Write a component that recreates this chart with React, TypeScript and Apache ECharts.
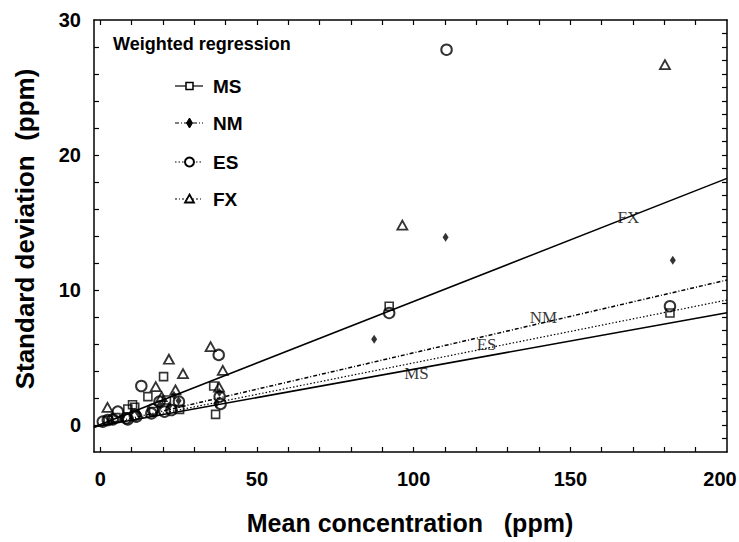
import React, { useEffect, useRef } from "react";
import * as echarts from "echarts";

// ---- data ----
const xTickValues = [0, 10, 20, 30, 40, 50, 60, 70, 80, 90, 100, 110, 120, 130, 140, 150, 160, 170, 180, 190];
const xLabelValues = [0, 50, 100, 150, 200];
const yLeftTickValues = [0, 2, 4, 6, 8, 10, 12, 14, 16, 18, 20, 22, 24, 26, 28];
const yRightTickValues = [-1, 0, 1, 2, 3, 4, 5, 6, 7, 8, 9, 10, 11, 12, 13, 14, 15, 16, 17, 18, 19, 20, 21, 22, 23, 24, 25, 26, 27, 28, 29];
const yLabelValues = [0, 10, 20, 30];

const msPoints = [
  [2.5, 0.35], [5, 0.55], [8.8, 1.19], [10.3, 1.5], [11.0, 1.31], [15.2, 2.1], [17, 1.0],
  [20.2, 3.58], [21.1, 1.85], [25.3, 1.16], [36.2, 2.89], [36.8, 0.79], [92.2, 8.8], [181.8, 8.3],
];
const nmPoints = [
  [3, 0.3], [7, 0.6], [12, 0.9], [19, 1.5], [22, 1.4], [23.5, 2.2], [25, 1.8], [37, 1.6],
  [38, 2.4], [87.4, 6.35], [110.2, 13.9], [182.7, 12.2],
];
const esPoints = [
  [0.8, 0.25], [2.4, 0.37], [4.0, 0.42], [5.6, 0.99], [8.3, 0.5], [8.8, 0.42], [11.0, 0.74],
  [11.5, 0.62], [13.1, 2.89], [16.3, 0.86], [16.8, 1.16], [18.9, 1.73], [20.5, 0.99], [22.7, 1.11],
  [25.1, 1.73], [37.8, 5.19], [38.1, 2.1], [38.4, 1.56], [92.2, 8.3], [110.5, 27.8], [181.8, 8.8],
];
const fxPoints = [
  [2.3, 1.3], [17.7, 2.84], [19.6, 2.1], [21.9, 4.87], [24, 2.6], [26.4, 3.8], [35.2, 5.8],
  [37.9, 2.81], [39.1, 4.05], [96.4, 14.8], [180.2, 26.7],
];

// regression lines: [start, end]
const msLine = [[-2, -0.15], [200, 8.32]];
const nmLine = [[-2, -0.15], [200, 10.74]];
const esLine = [[-2, -0.15], [200, 9.26]];
const fxLine = [[-2, -0.15], [200, 18.27]];

const lineLabels = [
  { name: "FX", value: [168.5, 15.4] },
  { name: "NM", value: [141.4, 7.98] },
  { name: "ES", value: [123.3, 5.93] },
  { name: "MS", value: [100.9, 3.78] },
];

const legendNames = ["MS", "NM", "ES", "FX"];

const SANS = "Liberation Sans, Arial, sans-serif";
const SERIF = "Liberation Serif, Times New Roman, serif";

function frameAxis(extra: any) {
  return {
    type: "value",
    min: extra.min,
    max: extra.max,
    position: extra.position,
    axisLine: { show: true, onZero: false, lineStyle: { color: "#000", width: 1.5 } },
    axisTick: {
      show: true,
      inside: true,
      length: 5,
      customValues: extra.ticks,
      lineStyle: { color: "#000", width: 1.2 },
    },
    axisLabel: extra.labels
      ? {
          show: true,
          customValues: extra.labels,
          fontSize: 20,
          fontWeight: "bold",
          fontFamily: SANS,
          color: "#000",
          margin: extra.margin,
          formatter: (v: number) => (extra.shiftMax && v === extra.max ? "{r|" + v + "}" : String(v)),
          rich: { r: { fontSize: 20, fontWeight: "bold", fontFamily: SANS, color: "#000", padding: [0, 14, 0, 0] } },
        }
      : { show: false },
    splitLine: { show: false },
  };
}

export default function App() {
  const ref = useRef<HTMLDivElement>(null);
  useEffect(() => {
    const chart = echarts.init(ref.current!, null, { renderer: "svg" });
    const hollow = (color: string) => ({ color: "rgba(0,0,0,0)", borderColor: color, borderWidth: 1.8 });

    const legendY = [86, 123, 162, 199];
    const legendDash: any[] = ["solid", [4, 2, 1, 2], [1.5, 2], [2, 2, 1, 2]];
    const legendGraphics: any[] = [];
    legendNames.forEach((n, i) => {
      const y = legendY[i];
      legendGraphics.push({
        type: "line",
        shape: { x1: 175, y1: y, x2: 203, y2: y },
        style: { stroke: "#000", lineWidth: 1.2, lineDash: legendDash[i] === "solid" ? null : legendDash[i] },
      });
      let marker: any;
      if (n === "MS") marker = { type: "rect", shape: { x: 186, y: y - 3.5, width: 7, height: 7 }, style: { fill: "#fff", stroke: "#000", lineWidth: 1.5 } };
      if (n === "NM") marker = { type: "polygon", shape: { points: [[189.5, y - 5], [192.5, y], [189.5, y + 5], [186.5, y]] }, style: { fill: "#000", stroke: "#000", lineWidth: 1 } };
      if (n === "ES") marker = { type: "circle", shape: { cx: 189.5, cy: y, r: 4.5 }, style: { fill: "#fff", stroke: "#000", lineWidth: 2 } };
      if (n === "FX") marker = { type: "polygon", shape: { points: [[189.5, y - 4.5], [194, y + 3.5], [185, y + 3.5]] }, style: { fill: "#fff", stroke: "#000", lineWidth: 1.8 } };
      legendGraphics.push(marker);
      legendGraphics.push({
        type: "text",
        x: 213,
        y: y,
        style: { text: n, fontSize: 19, fontWeight: "bold", fontFamily: SANS, fill: "#000", textVerticalAlign: "middle", textAlign: "left" },
      });
    });

    const option: any = {
      animation: false,
      backgroundColor: "#fff",
      color: ["#000"],
      grid: { left: 94, right: 12, top: 20, bottom: 90, containLabel: false, outerBoundsMode: "none" },
      xAxis: [
        frameAxis({ min: -2, max: 200, position: "bottom", ticks: xTickValues, labels: xLabelValues, margin: 17, shiftMax: true }),
        frameAxis({ min: -2, max: 200, position: "top", ticks: xTickValues }),
      ],
      yAxis: [
        frameAxis({ min: -2, max: 30, position: "left", ticks: yLeftTickValues, labels: yLabelValues, margin: 13 }),
        frameAxis({ min: -2, max: 30, position: "right", ticks: yRightTickValues }),
      ],
      series: [
        { type: "line", data: fxLine, symbol: "none", lineStyle: { color: "#000", width: 1.5, type: "solid" }, z: 2 },
        { type: "line", data: nmLine, symbol: "none", lineStyle: { color: "#000", width: 1.5, type: [4, 2, 1, 2] }, z: 2 },
        { type: "line", data: esLine, symbol: "none", lineStyle: { color: "#000", width: 1.2, type: [1.5, 2] }, z: 2 },
        { type: "line", data: msLine, symbol: "none", lineStyle: { color: "#000", width: 1.6, type: "solid" }, z: 2 },
        { name: "MS", type: "scatter", data: msPoints, symbol: "rect", symbolSize: 8, itemStyle: { ...hollow("#000"), borderWidth: 1.6 }, z: 3 },
        { name: "NM", type: "scatter", data: nmPoints, symbol: "diamond", symbolSize: [6, 9], itemStyle: { color: "#000" }, z: 3 },
        { name: "ES", type: "scatter", data: esPoints, symbol: "circle", symbolSize: 10.5, itemStyle: { ...hollow("#000"), borderWidth: 2 }, z: 3 },
        { name: "FX", type: "scatter", data: fxPoints, symbol: "triangle", symbolSize: [10, 9], itemStyle: { ...hollow("#000"), borderWidth: 1.8 }, z: 3 },
        {
          type: "scatter",
          data: lineLabels,
          symbolSize: 0,
          itemStyle: { color: "#000" },
          z: 4,
          label: {
            show: true,
            position: "inside",
            formatter: "{b}",
            fontFamily: SERIF,
            fontSize: 17,
            color: "#000",
            textBorderWidth: 0,
            textBorderColor: "transparent",
          },
        },
      ],
      graphic: [
        {
          type: "text",
          x: 113,
          y: 44,
          style: { text: "Weighted regression", fontSize: 18, fontWeight: "bold", fontFamily: SANS, fill: "#000", textVerticalAlign: "middle", textAlign: "left" },
        },
        ...legendGraphics,
        {
          type: "text",
          x: 410,
          y: 523,
          style: { text: "Mean concentration   (ppm)", fontSize: 25, fontWeight: "bold", fontFamily: SANS, fill: "#000", textAlign: "center", textVerticalAlign: "middle" },
        },
        {
          type: "text",
          x: 25,
          y: 229,
          rotation: Math.PI / 2,
          style: { text: "Standard deviation  (ppm)", fontSize: 26, fontWeight: "bold", fontFamily: SANS, fill: "#000", textAlign: "center", textVerticalAlign: "middle" },
        },
      ],
    };
    chart.setOption(option);
    return () => chart.dispose();
  }, []);
  return <div ref={ref} style={{ position: "fixed", left: 0, top: 0, width: 739, height: 542 }} />;
}
